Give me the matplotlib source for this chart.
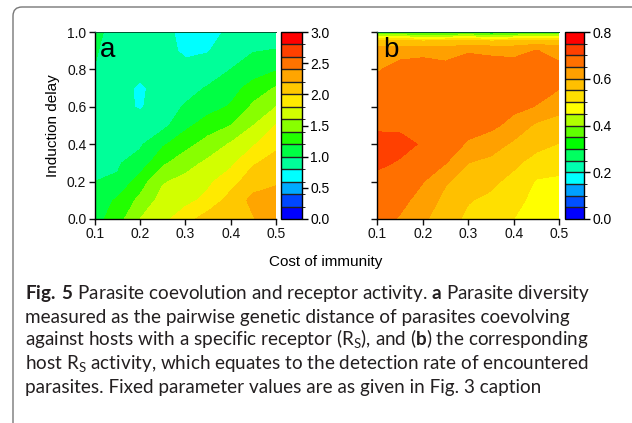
import numpy as np
import matplotlib
matplotlib.use('Agg')
import matplotlib.pyplot as plt
from matplotlib.colors import ListedColormap, BoundaryNorm
from matplotlib.patches import FancyBboxPatch

plt.rcParams['font.family'] = ['Liberation Sans', 'DejaVu Sans']
plt.rcParams['mathtext.fontset'] = 'custom'
plt.rcParams['mathtext.rm'] = 'Lato'
plt.rcParams['mathtext.bf'] = 'Lato:bold'

# cost of immunity (x) and induction delay (y)
cost = [0.1, 0.15, 0.2, 0.25, 0.3, 0.35, 0.4, 0.45, 0.5]
delay_a = [0.0, 0.1, 0.2, 0.3, 0.4, 0.5, 0.6, 0.7, 0.8, 0.9, 1.0]
delay_b = [0.0, 0.1, 0.2, 0.3, 0.4, 0.5, 0.6, 0.7, 0.8, 0.9, 0.95, 1.0]

# a: parasite diversity (rows = delay, cols = cost)
diversity = [
    [1.12, 1.31, 1.60, 1.74, 1.92, 2.10, 2.12, 2.19, 2.30],
    [1.08, 1.23, 1.45, 1.68, 1.74, 1.86, 2.08, 2.25, 2.30],
    [1.00, 1.02, 1.30, 1.58, 1.66, 1.76, 1.92, 2.12, 2.17],
    [0.96, 0.98, 1.08, 1.36, 1.52, 1.64, 1.75, 1.98, 2.07],
    [0.93, 0.95, 0.97, 1.17, 1.33, 1.48, 1.62, 1.78, 1.96],
    [0.92, 0.92, 0.90, 0.94, 1.15, 1.30, 1.40, 1.60, 1.81],
    [0.90, 0.86, 0.78, 0.90, 1.02, 1.12, 1.22, 1.44, 1.60],
    [0.93, 0.85, 0.78, 0.85, 0.92, 1.02, 1.12, 1.28, 1.42],
    [0.995, 0.88, 0.84, 0.86, 0.83, 0.88, 1.00, 1.10, 1.18],
    [1.02, 0.90, 0.85, 0.84, 0.78, 0.79, 0.90, 0.99, 1.01],
    [1.05, 0.92, 0.88, 0.86, 0.74, 0.73, 0.84, 0.85, 0.90],
]

# b: host R_S activity
activity = [
    [0.67, 0.645, 0.61, 0.57, 0.54, 0.52, 0.50, 0.48, 0.47],
    [0.68, 0.665, 0.63, 0.585, 0.553, 0.54, 0.515, 0.485, 0.475],
    [0.685, 0.68, 0.652, 0.605, 0.58, 0.56, 0.535, 0.495, 0.49],
    [0.71, 0.695, 0.68, 0.652, 0.60, 0.585, 0.56, 0.53, 0.52],
    [0.72, 0.715, 0.695, 0.67, 0.645, 0.625, 0.59, 0.565, 0.548],
    [0.69, 0.69, 0.69, 0.68, 0.665, 0.66, 0.635, 0.59, 0.58],
    [0.685, 0.69, 0.69, 0.685, 0.68, 0.67, 0.66, 0.648, 0.615],
    [0.67, 0.68, 0.685, 0.68, 0.685, 0.68, 0.675, 0.665, 0.652],
    [0.645, 0.67, 0.675, 0.67, 0.68, 0.675, 0.675, 0.68, 0.665],
    [0.62, 0.63, 0.635, 0.625, 0.645, 0.64, 0.635, 0.652, 0.63],
    [0.57, 0.57, 0.56, 0.565, 0.57, 0.56, 0.565, 0.575, 0.57],
    [0.34, 0.33, 0.30, 0.31, 0.33, 0.29, 0.32, 0.33, 0.35],
]

colors_a = ['#0000ff', '#0046ff', '#00aaff', '#00ffff', '#00ff99', '#00ff44',
            '#22ff00', '#88ff00', '#d2ff00', '#ffea00', '#ffc800', '#ffa500',
            '#ff7300', '#ff4000', '#ff0000']
colors_b = ['#0000ff', '#0050ff', '#00a0ff', '#00ffff', '#00ffb0', '#00ff60',
            '#00ff00', '#60ff00', '#b0ff00', '#ffff00', '#ffe000', '#ffc000',
            '#ffa000', '#ff7000', '#ff4000', '#ff0000']
lev_a = np.linspace(0, 3.0, 16)
lev_b = np.linspace(0, 0.8, 17)

caption = [
    r'$\mathbf{Fig.\,5}$ Parasite coevolution and receptor activity. $\mathbf{a}$ Parasite diversity',
    'measured as the pairwise genetic distance of parasites coevolving',
    r'against hosts with a specific receptor (R$_\mathrm{S}$), and ($\mathbf{b}$) the corresponding',
    r'host R$_\mathrm{S}$ activity, which equates to the detection rate of encountered',
    'parasites. Fixed parameter values are as given in Fig. 3 caption',
]

fig = plt.figure(figsize=(6.32, 4.23), dpi=100)

# caption frame
box = FancyBboxPatch((0.13, -1.0), 7.0, 5.16, boxstyle='round,pad=0,rounding_size=0.09',
                     transform=fig.dpi_scale_trans, facecolor='none',
                     edgecolor='#777777', lw=1.0, clip_on=False)
fig.add_artist(box)

ax1 = fig.add_axes([0.1498, 0.4823, 0.2869, 0.442])
cax1 = fig.add_axes([0.4446, 0.4823, 0.0332, 0.442])
ax2 = fig.add_axes([0.597, 0.4823, 0.288, 0.442])
cax2 = fig.add_axes([0.894, 0.4823, 0.0305, 0.442])

panels = [(ax1, cax1, delay_a, diversity, colors_a, lev_a, np.arange(0, 3.01, 0.5), 'a'),
          (ax2, cax2, delay_b, activity, colors_b, lev_b, np.arange(0, 0.81, 0.2), 'b')]

for ax, cax, yy, zz, cols, lev, cticks, lab in panels:
    cmap = ListedColormap(cols)
    norm = BoundaryNorm(lev, cmap.N)
    cf = ax.contourf(cost, yy, zz, levels=lev, cmap=cmap, norm=norm)
    ax.set_xlim(0.1, 0.5)
    ax.set_ylim(0, 1)
    ax.set_xticks([0.1, 0.2, 0.3, 0.4, 0.5])
    ax.set_xticklabels(['0.1', '0.2', '0.3', '0.4', '0.5'])
    ax.set_yticks([0, 0.2, 0.4, 0.6, 0.8, 1.0])
    ax.tick_params(direction='out', length=4, width=1, labelsize=10, pad=2, colors='#111111')
    ax.spines['right'].set_visible(False)
    ax.spines['top'].set_linewidth(0.7)
    ax.spines['top'].set_color('#005533')
    for s in ['left', 'bottom']:
        ax.spines[s].set_linewidth(1.0)
    ax.text(0.03, 0.975, lab, transform=ax.transAxes, fontsize=20, va='top', ha='left')

    cb = fig.colorbar(cf, cax=cax, ticks=cticks, drawedges=True)
    cb.dividers.set_color('#222222')
    cb.dividers.set_linewidth(1.0)
    cb.outline.set_linewidth(1.0)
    cb.set_ticklabels(['%.1f' % t for t in cticks])
    cax.tick_params(direction='out', length=4, width=1, labelsize=10, pad=2)

ax1.set_yticklabels(['0.0', '0.2', '0.4', '0.6', '0.8', '1.0'])
ax2.set_yticklabels([])
ax1.set_ylabel('Induction delay', fontsize=11, labelpad=5)
fig.text(0.516, 1 - 262 / 423, 'Cost of immunity', ha='center', va='center', fontsize=11)

# caption lines
for i, line in enumerate(caption):
    fig.text(25 / 632, 1 - (299.3 + 23.4 * i) / 423, line, fontsize=13.6, family='Lato',
             color='#231f20', va='baseline', ha='left')

fig.savefig('out.png', dpi=100)
